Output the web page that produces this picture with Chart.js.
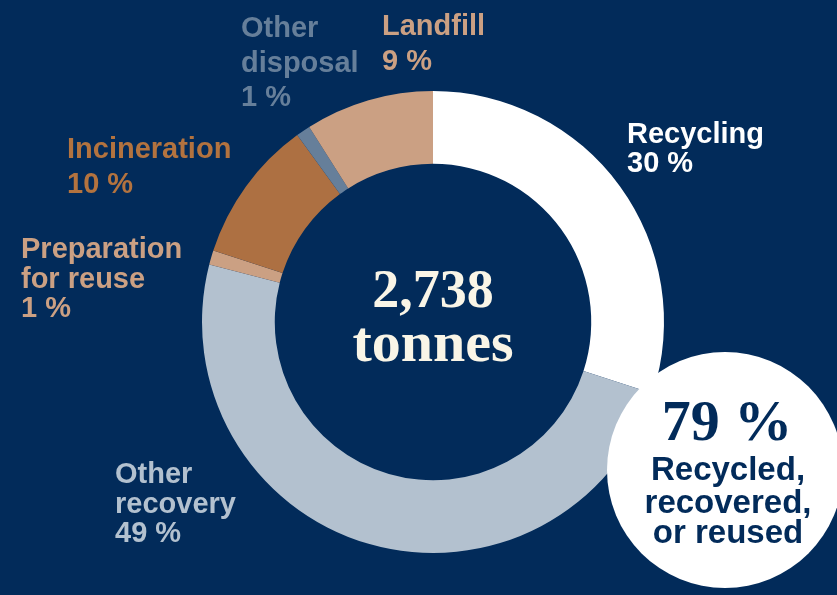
<!DOCTYPE html>
<html>
<head>
<meta charset="utf-8">
<script src="https://cdn.jsdelivr.net/npm/chart.js@4"></script>
<style>
    html, body { margin: 0; padding: 0; background: #022b5a; }
    #wrap { width: 837px; height: 595px; }
</style>
</head>
<body>
<div id="wrap"><canvas id="wasteChart" width="837" height="595"></canvas></div>
<script>
// Waste by treatment, share of total (%)
const categories = ['Recycling', 'Other recovery', 'Preparation for reuse', 'Incineration', 'Other disposal', 'Landfill'];
const shares = [30, 49, 1, 10, 1, 9];
const sliceColors = ['#ffffff', '#b3c1cf', '#cba083', '#ad7042', '#667f9a', '#cba083'];
const labelColors = ['#ffffff', '#b3c1cf', '#cba083', '#b3733f', '#667f9a', '#cba083'];
const totalText = ['2,738', 'tonnes'];
const recoveredShare = 79;
const recoveredText = ['Recycled,', 'recovered,', 'or reused'];

const NAVY = '#022b5a';

// where each label sits (left x, first baseline, line height) and how it wraps
const labelPlacement = [
    { x: 627, y: 143, lh: 29, breakAt: 0 },
    { x: 115, y: 483, lh: 29.5, breakAt: 1 },
    { x: 21, y: 258, lh: 29.5, breakAt: 1 },
    { x: 67, y: 158, lh: 35, breakAt: 0 },
    { x: 241, y: 37, lh: 34.5, breakAt: 1 },
    { x: 382, y: 35, lh: 35, breakAt: 0 }
];

function labelLines(i) {
    const words = categories[i].split(' ');
    const b = labelPlacement[i].breakAt;
    const lines = b > 0 ? [words.slice(0, b).join(' '), words.slice(b).join(' ')] : [words.join(' ')];
    lines.push(shares[i] + ' %');
    return lines;
}

const overlay = {
    id: 'overlay',
    afterDraw(chart) {
        const ctx = chart.ctx;
        const arc = chart.getDatasetMeta(0).data[0];
        ctx.save();

        // slice labels
        ctx.textAlign = 'left';
        ctx.textBaseline = 'alphabetic';
        ctx.font = 'bold 29px "Liberation Sans", Arial, sans-serif';
        labelPlacement.forEach(function(p, i) {
            ctx.fillStyle = labelColors[i];
            labelLines(i).forEach(function(line, k) {
                ctx.fillText(line, p.x, p.y + k * p.lh);
            });
        });

        // total in the middle
        ctx.textAlign = 'center';
        ctx.fillStyle = '#f9f5e7';
        ctx.font = 'bold 54px "Liberation Serif", "DejaVu Serif", serif';
        ctx.fillText(totalText[0], arc.x, 307);
        ctx.font = 'bold 58px "Liberation Serif", "DejaVu Serif", serif';
        ctx.fillText(totalText[1], arc.x, 361);

        // white badge bottom right
        ctx.beginPath();
        ctx.arc(725, 470, 118, 0, Math.PI * 2);
        ctx.fillStyle = '#ffffff';
        ctx.fill();
        ctx.fillStyle = NAVY;
        ctx.font = 'bold 58px "Liberation Serif", "DejaVu Serif", serif';
        ctx.fillText(recoveredShare + ' %', 727, 440);
        ctx.font = 'bold 33px "Liberation Sans", Arial, sans-serif';
        const ys = [480, 513, 543];
        recoveredText.forEach(function(t, k) {
            ctx.fillText(t, 728, ys[k]);
        });
        ctx.restore();
    }
};

const ctx = document.getElementById('wasteChart').getContext('2d');

new Chart(ctx, {
    type: 'doughnut',
    data: {
        labels: categories,
        datasets: [{
            data: shares,
            backgroundColor: sliceColors,
            borderWidth: 0
        }]
    },
    options: {
        responsive: false,
        animation: false,
        cutout: '68.5%',
        layout: {
            padding: { left: 202, right: 173, top: 91, bottom: 42 }
        },
        plugins: {
            legend: { display: false },
            tooltip: { enabled: false }
        }
    },
    plugins: [overlay]
});
</script>
</body>
</html>
